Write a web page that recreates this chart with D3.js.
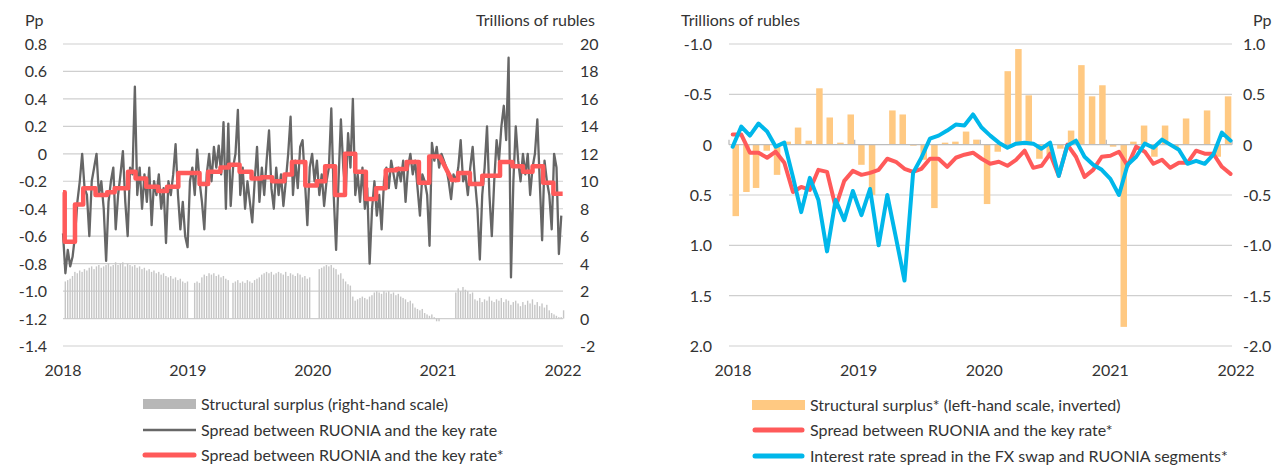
<!DOCTYPE html>
<html>
<head>
<meta charset="utf-8">
<script src="https://cdn.jsdelivr.net/npm/d3@7"></script>
<style>
  body { margin: 0; background: #fff; }
  svg text { font-family: Lato, "Open Sans", sans-serif; fill: #333; font-size: 16px; }
</style>
</head>
<body>
<svg id="chart" width="1285" height="465"></svg>
<script>
// ---- left chart data (weekly, from 1 Jan 2018) ----
var spreadWeekly = [
  -0.58, -0.87, -0.7, -0.82, -0.75, -0.6, -0.35, -0.2, 0.0, -0.25,
  -0.3, -0.6, -0.2, -0.1, 0.0, -0.3, -0.2, -0.4, -0.78, -0.35,
  -0.2, -0.1, -0.55, -0.3, -0.15, 0.02, -0.35, -0.6, -0.1, -0.15,
  0.49, -0.3, -0.1, -0.4, -0.15, -0.35, -0.1, -0.52, -0.2, -0.3,
  -0.15, -0.4, -0.25, -0.65, -0.2, -0.3, -0.15, 0.07, -0.3, -0.55,
  -0.35, -0.6, -0.68, -0.2, -0.1, -0.3, 0.03, -0.2, -0.35, -0.55,
  -0.15, 0.0, -0.2, 0.05, -0.1, 0.06, -0.15, 0.23, -0.4, 0.22,
  -0.38, -0.1, 0.0, 0.32, -0.3, -0.1, -0.4, -0.2, -0.35, -0.5,
  -0.2, 0.05, -0.35, -0.1, -0.3, -0.05, 0.17, -0.25, -0.4, -0.1,
  -0.3, -0.15, -0.38, -0.2, 0.0, 0.27, -0.3, -0.05, -0.25, 0.05,
  0.1, -0.2, -0.52, -0.1, 0.0, -0.2, -0.05, -0.3, -0.15, -0.38,
  -0.2, -0.1, 0.33, -0.3, -0.7, -0.2, 0.25, -0.1, -0.3, 0.15,
  -0.1, 0.4, -0.3, -0.15, -0.35, -0.1, -0.4, -0.25, -0.8, -0.4,
  -0.2, -0.45, -0.3, -0.55, -0.2, -0.1, -0.25, -0.05, -0.15, -0.25,
  -0.1, -0.2, -0.05, -0.35, -0.1, 0.0, -0.15, -0.05, -0.25, -0.45,
  -0.15, -0.2, -0.3, -0.67, 0.08, -0.05, 0.05, -0.1, 0.0, -0.05,
  -0.1, -0.2, -0.33, -0.15, -0.2, -0.1, 0.1, -0.2, -0.15, -0.3,
  -0.1, 0.05, -0.2, -0.4, -0.77, -0.3, -0.1, 0.2, -0.3, -0.6,
  -0.2, 0.1, -0.05, 0.2, 0.35, 0.1, 0.7, -0.9, -0.2, 0.2,
  -0.05, -0.2, 0.0, -0.15, 0.0, -0.3, -0.1, 0.0, 0.25, -0.2,
  -0.63, -0.05, -0.2, -0.3, -0.55, 0.0, -0.1, -0.73, -0.45
];

var surplusWeekly = [
  2.7, 2.8, 2.9, 3.1, 3.4, 3.3, 3.5, 3.4, 3.6, 3.5,
  3.7, 3.8, 3.6, 3.8, 3.9, 3.7, 3.8, 3.9, 4.0, 3.8,
  3.9, 4.1, 3.9, 4.0, 4.1, 3.8, 4.0, 3.9, 3.8, 3.9,
  3.7, 3.8, 3.6, 3.7, 3.5, 3.6, 3.4, 3.5, 3.3, 3.4,
  3.2, 3.3, 3.1, 3.0, 3.1, 2.9, 3.0, 2.8, 2.9, 2.7,
  2.6, 2.7, 0, 0, 2.6, 2.7, 2.6, 3.0, 3.2, 3.1,
  3.3, 3.2, 3.3, 3.1, 3.2, 3.0, 3.1, 2.9, 2.8, 0,
  2.6, 2.7, 2.8, 2.6, 2.7, 2.6, 2.8, 2.7, 2.6, 2.8,
  2.9, 3.0, 3.2, 3.3, 3.4, 3.3, 3.4, 3.2, 3.3, 3.4,
  3.3, 3.2, 3.4, 3.1, 3.3, 3.2, 3.1, 3.3, 3.2, 3.0,
  3.1, 2.9, 3.0, 0, 0, 0, 3.6, 3.7, 3.8, 3.9,
  3.8, 3.9, 3.7, 3.6, 3.2, 3.3, 2.9, 2.7, 2.5, 2.4,
  1.6, 1.3, 1.4, 1.5, 1.6, 1.5, 1.4, 1.6, 1.7, 1.9,
  2.0, 1.9, 1.8, 2.0, 1.9, 2.0, 1.8, 1.9, 1.7, 1.8,
  1.6, 1.5, 1.4, 1.2, 1.3, 1.1, 0.8, 0.7, 0.6, 0.7,
  0.4, 0.3, 0.2, 0.3, 0.1, -0.2, -0.2, 0, 0, 0,
  0, 0, 0, 1.9, 2.2, 2.0, 2.3, 2.1, 2.0, 1.8,
  1.9, 1.4, 1.3, 1.5, 1.2, 1.4, 1.3, 1.6, 1.3, 1.2,
  1.4, 1.3, 1.5, 1.2, 1.4, 1.3, 1.0, 1.2, 1.3, 1.1,
  0.9, 1.2, 1.0, 1.3, 1.1, 1.4, 1.0, 1.2, 0.9, 1.1,
  0.8, 1.0, 0.6, 0.4, 0.3, 0.2, 0.1, 0.1, 0.6
];

// averaged spread between key rate decisions
var stepStarts = [
  "2018-01-01", "2018-01-06", "2018-02-05", "2018-03-01", "2018-04-06", "2018-05-10",
  "2018-06-01", "2018-07-10", "2018-08-01", "2018-09-01", "2018-10-06", "2018-11-01",
  "2018-12-04", "2019-02-04", "2019-03-01", "2019-04-06", "2019-05-01", "2019-06-01",
  "2019-07-06", "2019-08-04", "2019-09-04", "2019-10-10", "2019-11-01", "2019-12-10",
  "2020-01-13", "2020-02-06", "2020-03-06", "2020-04-04", "2020-05-04", "2020-06-04",
  "2020-07-04", "2020-08-01", "2020-09-01", "2020-10-01", "2020-11-06", "2020-12-06",
  "2021-02-10", "2021-03-01", "2021-04-04", "2021-05-10", "2021-07-01", "2021-08-06",
  "2021-09-06", "2021-10-04", "2021-11-04", "2021-12-04"
];
var stepEnds = [
  "2018-01-06", "2018-02-05", "2018-03-01", "2018-04-06", "2018-05-10", "2018-06-01",
  "2018-07-10", "2018-08-01", "2018-09-01", "2018-10-06", "2018-11-01", "2018-12-04",
  "2019-02-04", "2019-03-01", "2019-04-06", "2019-05-01", "2019-06-01", "2019-07-06",
  "2019-08-04", "2019-09-04", "2019-10-10", "2019-11-01", "2019-12-10", "2020-01-13",
  "2020-02-06", "2020-03-06", "2020-04-04", "2020-05-04", "2020-06-04", "2020-07-04",
  "2020-08-01", "2020-09-01", "2020-10-01", "2020-11-06", "2020-12-06", "2021-01-06",
  "2021-03-01", "2021-04-04", "2021-05-10", "2021-07-01", "2021-08-06", "2021-09-06",
  "2021-10-04", "2021-11-04", "2021-12-04", "2021-12-31"
];
var stepValues = [
  -0.28, -0.64, -0.37, -0.25, -0.30, -0.28, -0.25, -0.13, -0.18, -0.24, -0.27, -0.24,
  -0.14, -0.22, -0.13, -0.10, -0.08, -0.13, -0.18, -0.17, -0.20, -0.15, -0.06, -0.23,
  -0.20, -0.09, -0.30, 0.00, -0.13, -0.33, -0.25, -0.12, -0.11, -0.06, -0.21, -0.02,
  -0.19, -0.14, -0.22, -0.16, -0.06, -0.09, -0.13, -0.09, -0.21, -0.29
];

// ---- right chart data ----
// monthly structural surplus, trillions of rubles (Jan 2018 .. Dec 2021)
var surplusMonthly = [
  0.71, 0.47, 0.43, 0.06, 0.30, -0.03, -0.17, -0.04, -0.56, -0.27, -0.02, -0.30,
  0.20, 0.50, 0.00, -0.34, -0.30, 0.01, 0.15, 0.63, -0.02, -0.03, -0.13, -0.05,
  0.59, 0.07, -0.73, -0.95, -0.49, 0.14, 0.10, 0.04, -0.14, -0.79, -0.48, -0.59,
  0.02, 1.81, -0.03, -0.19, 0.12, -0.19, 0.03, -0.26, 0.00, -0.34, 0.12, -0.48
];
// spreads by averaging period, pp
var ruoniaSpread = [
  0.10, 0.10, -0.08, -0.08, -0.13, -0.07, -0.18, -0.47, -0.42, -0.45,
  -0.25, -0.27, -0.62, -0.36, -0.26, -0.30, -0.28, -0.25, -0.14, -0.17,
  -0.24, -0.27, -0.24, -0.14, -0.14, -0.22, -0.13, -0.10, -0.08, -0.14,
  -0.19, -0.17, -0.21, -0.15, -0.06, -0.23, -0.21, -0.09, -0.31, 0.00,
  -0.12, -0.32, -0.25, -0.12, -0.11, -0.07, -0.21, -0.02, -0.07, -0.19,
  -0.15, -0.23, -0.18, -0.18, -0.06, -0.09, -0.09, -0.22, -0.29
];
var fxSwapSpread = [
  -0.02, 0.18, 0.09, 0.21, 0.13, -0.02, 0.02, -0.32, -0.67, -0.33,
  -0.55, -1.06, -0.55, -0.75, -0.46, -0.70, -0.44, -1.00, -0.50, -0.92,
  -1.35, -0.28, -0.13, 0.06, 0.09, 0.14, 0.20, 0.19, 0.30, 0.17,
  0.09, 0.02, -0.03, 0.01, 0.02, 0.01, -0.04, 0.02, -0.31, -0.01,
  0.04, -0.12, -0.20, -0.25, -0.34, -0.50, -0.20, -0.12, 0.01, -0.03,
  0.05, 0.00, -0.05, -0.19, -0.16, -0.19, -0.10, 0.12, 0.04
];

var years = [2018, 2019, 2020, 2021, 2022];
var leftPpTicks = [0.8, 0.6, 0.4, 0.2, 0, -0.2, -0.4, -0.6, -0.8, -1.0, -1.2, -1.4];
var leftRubTicks = [20, 18, 16, 14, 12, 10, 8, 6, 4, 2, 0, -2];
var rightRubTicks = [-1.0, -0.5, 0, 0.5, 1.0, 1.5, 2.0];
var rightPpTicks = [1.0, 0.5, 0, -0.5, -1.0, -1.5, -2.0];

var parse = d3.timeParse("%Y-%m-%d");
var start = new Date(2018, 0, 1);
var fmt = function (v) { return v === 0 ? "0" : d3.format(".1f")(v).replace("\u2212", "-"); };

var svg = d3.select("#chart");

// ================= LEFT CHART =================
var xL = d3.scaleTime().domain([start, new Date(2022, 0, 1)]).range([63, 563]);
var yL = d3.scaleLinear().domain([-1.4, 0.8]).range([346, 44]);
var yL2 = d3.scaleLinear().domain([-2, 20]).range([346, 44]);

var left = svg.append("g");

left.selectAll("line.grid").data(leftPpTicks).enter().append("line")
  .attr("x1", 63).attr("x2", 563)
  .attr("y1", (d) => yL(d)).attr("y2", (d) => yL(d))
  .attr("stroke", "#cfcfcf").attr("stroke-width", 1.2);

left.selectAll("text.yl").data(leftPpTicks).enter().append("text")
  .attr("x", 47).attr("y", (d) => yL(d) + 6)
  .attr("text-anchor", "end")
  .text(fmt);

left.selectAll("text.yr").data(leftRubTicks).enter().append("text")
  .attr("x", 580).attr("y", (d) => yL2(d) + 6)
  .attr("text-anchor", "start")
  .text((d) => String(d));

left.selectAll("text.yr2").data(years).enter().append("text")
  .attr("x", (d) => xL(new Date(d, 0, 1))).attr("y", 376)
  .attr("text-anchor", "middle")
  .text((d) => d);

left.append("text").attr("x", 25).attr("y", 26).text("Pp");
left.append("text").attr("x", 595).attr("y", 26).attr("text-anchor", "end").text("Trillions of rubles");

var weekDates = spreadWeekly.map((_, i) => d3.timeDay.offset(start, i * 7));

left.selectAll("rect.sur").data(surplusWeekly).enter().append("rect")
  .attr("x", (d, i) => xL(weekDates[i]) + 1.6)
  .attr("width", 1.4)
  .attr("y", (d) => Math.min(yL2(d), yL2(0)))
  .attr("height", (d) => Math.abs(yL2(d) - yL2(0)))
  .attr("fill", "#c6c6c6");

var grayLine = d3.line()
  .x((d, i) => xL(weekDates[i]))
  .y((d) => yL(d));
left.append("path").datum(spreadWeekly)
  .attr("d", grayLine)
  .attr("fill", "none").attr("stroke", "#666")
  .attr("stroke-width", 2.3).attr("stroke-linejoin", "round");

var stepPts = [];
stepValues.forEach(function (v, i) {
  stepPts.push([parse(stepStarts[i]), v]);
  stepPts.push([parse(stepEnds[i]), v]);
});
left.append("path").datum(stepPts)
  .attr("d", d3.line().x((d) => xL(d[0])).y((d) => yL(d[1])))
  .attr("fill", "none").attr("stroke", "#ff5a5a")
  .attr("stroke-width", 4.5).attr("stroke-linejoin", "round");

// legend
var legL = svg.append("g");
legL.append("rect").attr("x", 143).attr("y", 399).attr("width", 53).attr("height", 10).attr("fill", "#b7b7b7");
legL.append("line").attr("x1", 143).attr("x2", 196).attr("y1", 430).attr("y2", 430)
  .attr("stroke", "#676767").attr("stroke-width", 2.5);
legL.append("line").attr("x1", 145).attr("x2", 194).attr("y1", 455).attr("y2", 455)
  .attr("stroke", "#ff5a5a").attr("stroke-width", 5).attr("stroke-linecap", "round");
[["Structural surplus (right-hand scale)", 404],
 ["Spread between RUONIA and the key rate", 430],
 ["Spread between RUONIA and the key rate*", 455]].forEach(function (t) {
  legL.append("text").attr("x", 201).attr("y", t[1] + 6).text(t[0]);
});

// ================= RIGHT CHART =================
var xR = d3.scaleTime().domain([start, new Date(2022, 0, 1)]).range([732, 1235]);
var ySur = d3.scaleLinear().domain([-1, 2]).range([44, 346]); // inverted
var yPp = d3.scaleLinear().domain([-2, 1]).range([346, 44]);

var right = svg.append("g");

right.selectAll("line.grid").data(rightRubTicks.filter((d) => d !== 0)).enter().append("line")
  .attr("x1", 729).attr("x2", 1232)
  .attr("y1", (d) => ySur(d)).attr("y2", (d) => ySur(d))
  .attr("stroke", "#cfcfcf").attr("stroke-width", 1.2);

right.selectAll("text.yl").data(rightRubTicks).enter().append("text")
  .attr("x", 712).attr("y", (d) => ySur(d) + 6)
  .attr("text-anchor", "end")
  .text(fmt);

right.selectAll("text.yr").data(rightPpTicks).enter().append("text")
  .attr("x", 1243).attr("y", (d) => yPp(d) + 6)
  .attr("text-anchor", "start")
  .text(fmt);

right.selectAll("text.yrs").data(years).enter().append("text")
  .attr("x", (d) => xR(new Date(d, 0, 1)) + 1).attr("y", 376)
  .attr("text-anchor", "middle")
  .text((d) => d);

right.append("text").attr("x", 681).attr("y", 26).text("Trillions of rubles");
right.append("text").attr("x", 1253).attr("y", 26).text("Pp");

var months = surplusMonthly.map((_, i) => d3.timeMonth.offset(start, i));
right.selectAll("rect.bar").data(surplusMonthly).enter().append("rect")
  .attr("x", (d, i) => xR(months[i]) + 0.5)
  .attr("width", 6.5)
  .attr("y", (d) => Math.min(ySur(d), ySur(0)))
  .attr("height", (d) => Math.abs(ySur(d) - ySur(0)))
  .attr("fill", "#ffc982");

// zero axis with year ticks
right.append("line").attr("x1", 729).attr("x2", 1232)
  .attr("y1", ySur(0)).attr("y2", ySur(0))
  .attr("stroke", "#bdbdbd").attr("stroke-width", 1.3);
right.selectAll("line.tk").data(years).enter().append("line")
  .attr("x1", (d) => xR(new Date(d, 0, 1)) - 3).attr("x2", (d) => xR(new Date(d, 0, 1)) - 3)
  .attr("y1", ySur(0) - 5).attr("y2", ySur(0))
  .attr("stroke", "#bdbdbd").attr("stroke-width", 1.3);

var periodDates = ruoniaSpread.map((_, i) => d3.timeDay.offset(new Date(2018, 0, 3), Math.round(i * 24.93)));
var ppLine = d3.line()
  .x((d, i) => xR(periodDates[i]))
  .y((d) => yPp(d));

right.append("path").datum(ruoniaSpread)
  .attr("d", ppLine)
  .attr("fill", "none").attr("stroke", "#ff5a5a")
  .attr("stroke-width", 4).attr("stroke-linejoin", "round").attr("stroke-linecap", "round");
right.append("path").datum(fxSwapSpread)
  .attr("d", ppLine)
  .attr("fill", "none").attr("stroke", "#00b7ea")
  .attr("stroke-width", 4).attr("stroke-linejoin", "round").attr("stroke-linecap", "round");

var legR = svg.append("g");
legR.append("rect").attr("x", 752).attr("y", 400).attr("width", 53).attr("height", 10).attr("fill", "#ffc982");
legR.append("line").attr("x1", 755).attr("x2", 802).attr("y1", 430).attr("y2", 430)
  .attr("stroke", "#ff5a5a").attr("stroke-width", 5).attr("stroke-linecap", "round");
legR.append("line").attr("x1", 755).attr("x2", 802).attr("y1", 456).attr("y2", 456)
  .attr("stroke", "#00b7ea").attr("stroke-width", 5).attr("stroke-linecap", "round");
[["Structural surplus* (left-hand scale, inverted)", 405],
 ["Spread between RUONIA and the key rate*", 430],
 ["Interest rate spread in the FX swap and RUONIA segments*", 456]].forEach(function (t) {
  legR.append("text").attr("x", 810).attr("y", t[1] + 6).text(t[0]);
});
</script>
</body>
</html>
